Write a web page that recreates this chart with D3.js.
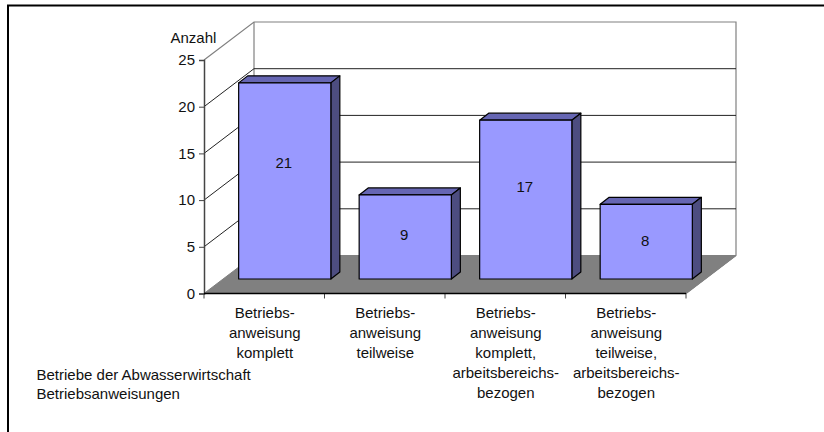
<!DOCTYPE html>
<html>
<head>
<meta charset="utf-8">
<script src="https://cdn.jsdelivr.net/npm/d3@7"></script>
<style>
  html, body { margin: 0; padding: 0; background: #fff; }
  svg { display: block; }
  text { font-family: "Liberation Sans", Arial, sans-serif; font-size: 15px; fill: #111; }
</style>
</head>
<body>
<div id="chart"></div>
<script>
const categories = ["komplett", "teilweise", "komplett-bezogen", "teilweise-bezogen"];
const values = [21, 9, 17, 8];
const categoryLabels = [
  ["Betriebs-", "anweisung", "komplett"],
  ["Betriebs-", "anweisung", "teilweise"],
  ["Betriebs-", "anweisung", "komplett,", "arbeitsbereichs-", "bezogen"],
  ["Betriebs-", "anweisung", "teilweise,", "arbeitsbereichs-", "bezogen"],
];
const yTicks = [0, 5, 10, 15, 20, 25];
const yTitle = "Anzahl";
const noteLines = ["Betriebe der Abwasserwirtschaft", "Betriebsanweisungen"];

const width = 824, height = 432;
const depth = { x: 50, y: 38 };      // wall offset of the fake 3d box
const barFront = { x: 19, y: 14.5 }; // front face of the bars inside the box
const barSide = { x: 9, y: 7 };

const svg = d3.select("#chart").append("svg")
  .attr("width", width).attr("height", height)
  .attr("viewBox", [0, 0, width, height])
  .attr("role", "img");

// only the top and left edge of the frame are inside the window
svg.append("path")
  .attr("d", d3.line()([[8, height], [8, 5.5], [width, 5.5]]))
  .attr("fill", "none").attr("stroke", "#000").attr("stroke-width", 2);

const x = d3.scaleBand().domain(categories).range([204, 686]);
const y = d3.scaleLinear().domain([0, 25]).range([293.5, 60]);
const x0 = x.range()[0], x1 = x.range()[1];
const barWidth = x.bandwidth() * 0.765;
const barPad = (x.bandwidth() - barWidth) / 2 + 1.5;

// walls and floor
const walls = svg.append("g");
walls.append("path")
  .attr("d", d3.line()([[x0, y(0)], [x0 + depth.x, y(0) - depth.y], [x1 + depth.x, y(0) - depth.y], [x1, y(0)]]))
  .attr("fill", "#808080").attr("stroke", "#808080");
walls.append("path")
  .attr("d", d3.line()([[x0, y(25)], [x0 + depth.x, y(25) - depth.y], [x1 + depth.x, y(25) - depth.y], [x1 + depth.x, y(0) - depth.y], [x1, y(0)]]))
  .attr("fill", "none").attr("stroke", "#808080").attr("stroke-width", 1.2);
walls.append("line")
  .attr("x1", x0 + depth.x).attr("x2", x0 + depth.x)
  .attr("y1", y(25) - depth.y).attr("y2", y(0) - depth.y)
  .attr("stroke", "#808080").attr("stroke-width", 1.2);

// gridlines on side and back wall
svg.append("g").selectAll("path")
  .data(yTicks.slice(1, -1))
  .join("path")
  .attr("d", (d) => d3.line()([[x0, y(d)], [x0 + depth.x, y(d) - depth.y], [x1 + depth.x, y(d) - depth.y]]))
  .attr("fill", "none").attr("stroke", "#222").attr("stroke-width", 1);

// bars, drawn as front, top and side faces
const bars = svg.append("g").selectAll("g")
  .data(categories.map((c, i) => ({ c, v: values[i] })))
  .join("g")
  .attr("stroke", "#000").attr("stroke-width", 1.2).attr("stroke-linejoin", "round");

const barLeft = (d) => x(d.c) + barFront.x + barPad;
const barBase = y(0) - barFront.y;
const barTop = (d) => barBase - (y(0) - y(d.v));

bars.append("path").attr("fill", "#6666b3")
  .attr("d", (d) => d3.line()([
    [barLeft(d), barTop(d)],
    [barLeft(d) + barSide.x, barTop(d) - barSide.y],
    [barLeft(d) + barWidth + barSide.x, barTop(d) - barSide.y],
    [barLeft(d) + barWidth, barTop(d)],
  ]) + "Z");
bars.append("path").attr("fill", "#4d4d80")
  .attr("d", (d) => d3.line()([
    [barLeft(d) + barWidth, barTop(d)],
    [barLeft(d) + barWidth + barSide.x, barTop(d) - barSide.y],
    [barLeft(d) + barWidth + barSide.x, barBase - barSide.y],
    [barLeft(d) + barWidth, barBase],
  ]) + "Z");
bars.append("rect").attr("fill", "#9999ff")
  .attr("x", barLeft)
  .attr("y", barTop)
  .attr("width", barWidth)
  .attr("height", (d) => barBase - barTop(d));
// the value labels sit above the middle of the bar, more so on tall bars
bars.append("text")
  .attr("x", (d) => barLeft(d) + barWidth / 2 - 1)
  .attr("y", (d) => barBase - (6 * d.v - 9) + 5.5)
  .attr("text-anchor", "middle").attr("stroke", "none")
  .text((d) => d.v);

// axes
const yAxis = svg.append("g")
  .attr("transform", `translate(${x0},0)`)
  .call(d3.axisLeft(y).tickValues(yTicks).tickSize(5).tickPadding(4));
yAxis.select(".domain").attr("stroke", "#444").attr("stroke-width", 1.5);
yAxis.selectAll("line").attr("stroke", "#444");
yAxis.selectAll("text").style("font-size", "15px").style("font-family", '"Liberation Sans", Arial, sans-serif').attr("fill", "#111");

const xTickValues = [x0].concat(categories.map((c) => x(c) + x.bandwidth()));
svg.append("g").selectAll("line")
  .data(xTickValues)
  .join("line")
  .attr("x1", (d) => d).attr("x2", (d) => d)
  .attr("y1", y(0)).attr("y2", y(0) + 5)
  .attr("stroke", "#444");
svg.append("line")
  .attr("x1", x0).attr("x2", x1).attr("y1", y(0)).attr("y2", y(0))
  .attr("stroke", "#000").attr("stroke-width", 1.5);

// category labels
svg.append("g").selectAll("text")
  .data(categories)
  .join("text")
  .attr("text-anchor", "middle")
  .attr("transform", (c) => `translate(${x(c) + x.bandwidth() / 2 + 0.5},317.5)`)
  .selectAll("tspan")
  .data((c, i) => categoryLabels[i])
  .join("tspan")
  .attr("x", 0)
  .attr("y", (d, i) => i * 20)
  .text((d) => d);

svg.append("text").attr("x", 170.5).attr("y", 42.5).text(yTitle);

svg.append("g").selectAll("text")
  .data(noteLines)
  .join("text")
  .attr("x", 36.5)
  .attr("y", (d, i) => 379.5 + i * 19.7)
  .text((d) => d);
</script>
</body>
</html>
